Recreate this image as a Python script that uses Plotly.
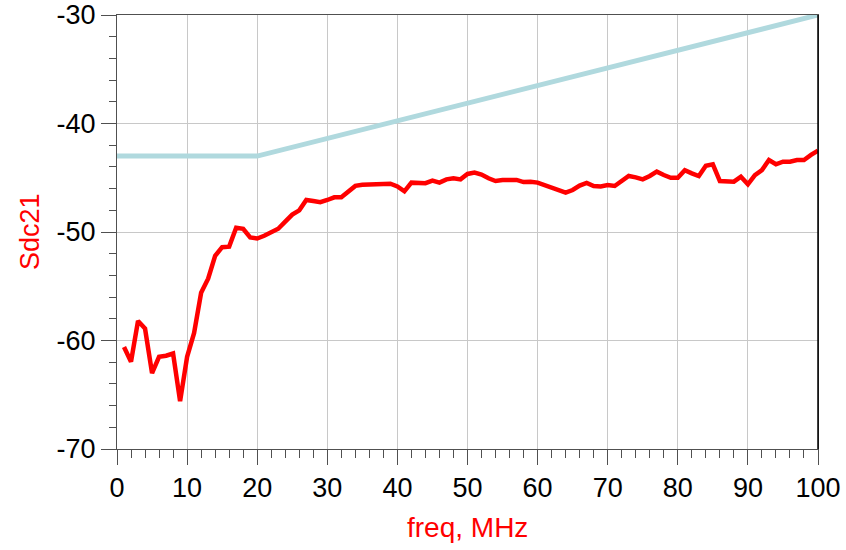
import plotly.graph_objects as go

freq = list(range(1, 101))
sdc21 = [
    -60.6, -61.95, -58.2, -58.9, -63.0, -61.5, -61.4, -61.2, -65.6, -61.5,
    -59.3, -55.6, -54.3, -52.2, -51.4, -51.35, -49.6, -49.7, -50.5, -50.6,
    -50.35, -50.0, -49.7, -49.05, -48.4, -48.0, -47.05, -47.15, -47.25, -47.05,
    -46.8, -46.8, -46.3, -45.75, -45.65, -45.6, -45.6, -45.5, -45.55, -45.8,
    -46.25, -45.45, -45.45, -45.5, -45.27, -45.45, -45.15, -45.05, -45.15, -44.65,
    -44.53, -44.7, -45.05, -45.3, -45.2, -45.15, -45.2, -45.4, -45.37, -45.45,
    -45.7, -45.97, -46.2, -46.38, -46.13, -45.72, -45.47, -45.76, -45.8, -45.67,
    -45.76, -45.36, -44.84, -44.96, -45.15, -44.84, -44.44, -44.75, -45.0, -45.0,
    -44.3, -44.6, -44.84, -43.9, -43.76, -45.3, -45.36, -45.36, -44.9, -45.6,
    -44.75, -44.3, -43.37, -43.76, -43.52, -43.52, -43.37, -43.37, -42.9, -42.5,
]

limit_freq = [0, 20, 100]
limit_val = [-43, -43, -30]

x_ticks = [0, 10, 20, 30, 40, 50, 60, 70, 80, 90, 100]
y_ticks = [-70, -60, -50, -40, -30]
y_tick_labels = ["-70", "-60", "-50", "-40", "-30"]

FONT = "Liberation Sans, Arial, sans-serif"

fig = go.Figure()
fig.add_trace(go.Scatter(x=limit_freq, y=limit_val, mode="lines",
                         line=dict(color="#b0d9de", width=5), cliponaxis=False,
                         showlegend=False))
fig.add_trace(go.Scatter(x=freq, y=sdc21, mode="lines",
                         line=dict(color="#ff0000", width=4.5),
                         showlegend=False))

axis_common = dict(
    showline=True, linecolor="#505050", linewidth=1, mirror=True,
    showgrid=True, gridcolor="#c8c8c8", gridwidth=1,
    ticks="outside", ticklen=15, tickcolor="#505050", tickwidth=1,
    tickfont=dict(family=FONT, size=27, color="black"),
    zeroline=False, automargin=False, ticklabeloverflow="allow",
)

fig.update_xaxes(range=[0, 100], tickvals=x_ticks, **axis_common,
                 minor=dict(dtick=2, ticks="outside", ticklen=8, tickcolor="#505050",
                            showgrid=False))
fig.update_yaxes(range=[-70, -30], tickvals=y_ticks, ticktext=y_tick_labels,
                 **axis_common,
                 minor=dict(dtick=2, ticks="outside", ticklen=7, tickcolor="#505050",
                            showgrid=False))

fig.update_layout(
    width=846, height=550,
    margin=dict(l=117, r=28, t=15, b=101),
    plot_bgcolor="white", paper_bgcolor="white",
    font=dict(family=FONT),
    annotations=[
        dict(text="freq, MHz", xref="paper", yref="paper", x=0.5, y=0,
             yshift=-78, yanchor="middle", xanchor="center", showarrow=False,
             font=dict(family=FONT, size=28, color="#ff0000")),
        dict(text="Sdc21", xref="paper", yref="paper", x=0, y=0.5,
             xshift=-87, xanchor="center", yanchor="middle", textangle=-90,
             showarrow=False, font=dict(family=FONT, size=27, color="#ff0000")),
    ],
    shapes=[
        dict(type="line", xref="paper", yref="paper", x0=1, x1=1, y0=0, y1=1,
             line=dict(color="black", width=1.5)),
    ],
)

fig.write_html("out.html", config={"displayModeBar": False},
               post_script="document.body.style.margin='0';document.body.style.overflow='hidden';")
